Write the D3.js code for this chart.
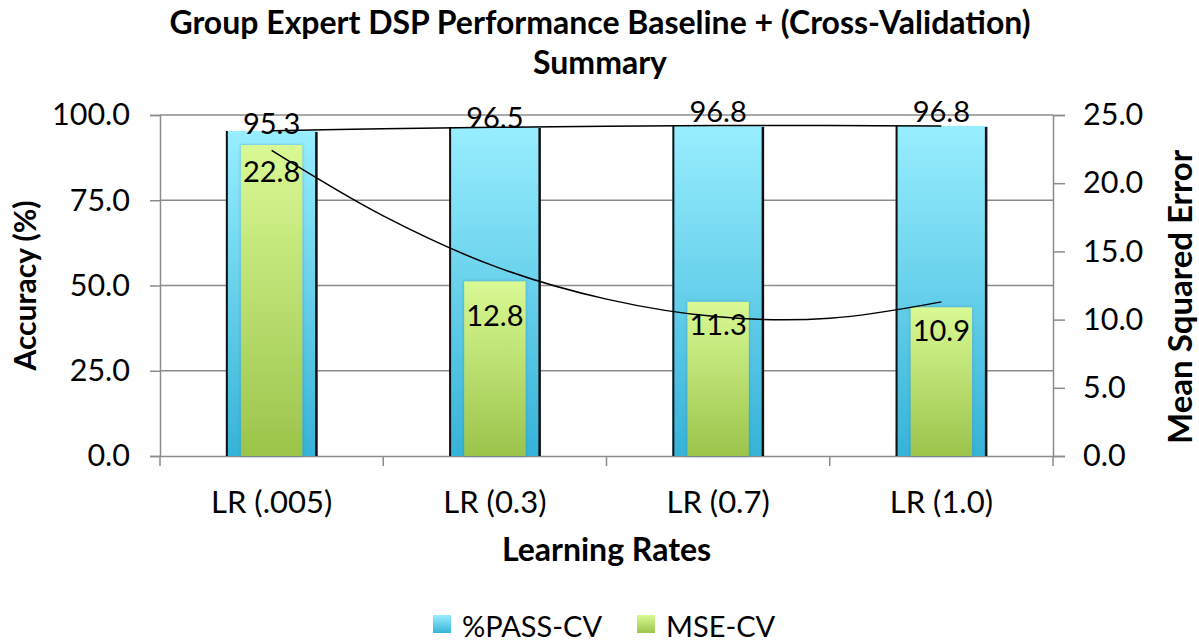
<!DOCTYPE html>
<html>
<head>
<meta charset="utf-8">
<script src="https://cdn.jsdelivr.net/npm/d3@7"></script>
<style>
  html, body { margin: 0; padding: 0; background: #fff; }
  svg { display: block; }
  text { font-family: Lato, "Open Sans", sans-serif; fill: #000; }
</style>
</head>
<body>
<svg id="chart" width="1199" height="644"></svg>
<script>
// ---- data ----
const categories = ["LR (.005)", "LR (0.3)", "LR (0.7)", "LR (1.0)"];
const passCV = [95.3, 96.5, 96.8, 96.8];
const mseCV = [22.8, 12.8, 11.3, 10.9];
const leftTicks = [0, 25, 50, 75, 100];
const rightTicks = [0, 5, 10, 15, 20, 25];
// trendlines (position in category index units)
const trendPos = [0, 0.5, 1, 1.5, 2, 2.5, 3];
const passTrend = [95.4, 96.0, 96.4, 96.7, 96.9, 96.9, 96.8];
const mseTrend = [22.4, 17.6, 13.9, 11.5, 10.2, 10.1, 11.3];
const titleLines = ["Group Expert DSP Performance Baseline + (Cross-Validation)", "Summary"];
const seriesNames = ["%PASS-CV", "MSE-CV"];

// ---- layout ----
const svg = d3.select("#chart");
const L = 160, R = 1053, T = 115, B = 456;
// label nudges (pixels) as placed in the original
const passLabelDy = [3, 1, -4, -4];
const mseLabelDy = [37, 45, 33, 34];

const x = d3.scaleBand().domain(categories).range([L, R]).padding(0);
const xi = d3.scaleLinear().domain([0, categories.length - 1])
  .range([x(categories[0]) + x.bandwidth() / 2, x(categories[categories.length - 1]) + x.bandwidth() / 2]);
const yL = d3.scaleLinear().domain([0, 100]).range([B, T]);
const yR = d3.scaleLinear().domain([0, 25]).range([B, T]);

const defs = svg.append("defs");
const gBlue = defs.append("linearGradient").attr("id", "gBlue").attr("x1", 0).attr("y1", 0).attr("x2", 0).attr("y2", 1);
gBlue.append("stop").attr("offset", "0%").attr("stop-color", "#98eefe");
gBlue.append("stop").attr("offset", "100%").attr("stop-color", "#36b3d8");
const gGreen = defs.append("linearGradient").attr("id", "gGreen").attr("x1", 0).attr("y1", 0).attr("x2", 0).attr("y2", 1);
gGreen.append("stop").attr("offset", "0%").attr("stop-color", "#d9f994");
gGreen.append("stop").attr("offset", "100%").attr("stop-color", "#9bc44b");
const fShadow = defs.append("filter").attr("id", "shadow").attr("x", "-20%").attr("y", "-20%").attr("width", "140%").attr("height", "140%");
fShadow.append("feDropShadow").attr("dx", 0).attr("dy", 0).attr("stdDeviation", 1.5).attr("flood-color", "#1a6f8a").attr("flood-opacity", 0.5);

// gridlines
svg.append("g").selectAll("line").data(leftTicks.filter(d => d > 0)).join("line")
  .attr("x1", L).attr("x2", R).attr("y1", d => yL(d)).attr("y2", d => yL(d))
  .attr("stroke", "#8c8c8c").attr("stroke-width", 1.5);

// axes
const axisLeft = d3.axisLeft(yL).tickValues(leftTicks).tickFormat(d3.format(".1f")).tickSize(10).tickPadding(20);
const gl = svg.append("g").attr("transform", `translate(${L},0)`).call(axisLeft);
const axisRight = d3.axisRight(yR).tickValues(rightTicks).tickFormat(d3.format(".1f")).tickSize(12).tickPadding(18);
const gr = svg.append("g").attr("transform", `translate(${R},0)`).call(axisRight);
const axisBottom = d3.axisBottom(x).tickSize(0).tickPadding(35);
const gb = svg.append("g").attr("transform", `translate(0,${B})`).call(axisBottom);
// boundary ticks between categories
svg.append("g").selectAll("line").data(d3.range(categories.length + 1)).join("line")
  .attr("x1", i => L + i * x.step()).attr("x2", i => L + i * x.step())
  .attr("y1", B).attr("y2", B + 10)
  .attr("stroke", "#8c8c8c").attr("stroke-width", 1.5);

[gl, gr, gb].forEach(g => {
  g.selectAll("path.domain").attr("stroke", "#8c8c8c").attr("stroke-width", 1.5);
  g.selectAll(".tick line").attr("stroke", "#8c8c8c").attr("stroke-width", 1.5);
  g.selectAll("text").style("font-family", "Lato").style("font-size", "30.5px").attr("fill", "#000");
});
gb.selectAll("text").style("font-size", "31px");

// bars
const blueW = x.bandwidth() * 0.41;
const greenW = x.bandwidth() * 0.275;
const bars = svg.append("g");
bars.selectAll("rect.pass").data(categories).join("rect").attr("class", "pass")
  .attr("x", d => x(d) + x.bandwidth() / 2 - blueW / 2)
  .attr("width", blueW)
  .attr("y", (d, i) => yL(passCV[i]))
  .attr("height", (d, i) => B - yL(passCV[i]))
  .attr("fill", "url(#gBlue)");
// black side edges
bars.selectAll("line.edgeL").data(categories).join("line").attr("class", "edgeL")
  .attr("x1", d => x(d) + x.bandwidth() / 2 - blueW / 2 + 1).attr("x2", d => x(d) + x.bandwidth() / 2 - blueW / 2 + 1)
  .attr("y1", (d, i) => yL(passCV[i])).attr("y2", B)
  .attr("stroke", "#111").attr("stroke-width", 2);
bars.selectAll("line.edgeR").data(categories).join("line").attr("class", "edgeR")
  .attr("x1", d => x(d) + x.bandwidth() / 2 + blueW / 2 - 1).attr("x2", d => x(d) + x.bandwidth() / 2 + blueW / 2 - 1)
  .attr("y1", (d, i) => yL(passCV[i]) + 1).attr("y2", B)
  .attr("stroke", "#111").attr("stroke-width", 2.5);
bars.selectAll("rect.mse").data(categories).join("rect").attr("class", "mse")
  .attr("x", d => x(d) + x.bandwidth() / 2 - greenW / 2)
  .attr("width", greenW)
  .attr("y", (d, i) => yR(mseCV[i]))
  .attr("height", (d, i) => B - yR(mseCV[i]))
  .attr("fill", "url(#gGreen)")
  .attr("filter", "url(#shadow)");

// trendlines
const passLine = d3.line().x((d, i) => xi(trendPos[i])).y(d => yL(d)).curve(d3.curveCatmullRom);
const mseLine = d3.line().x((d, i) => xi(trendPos[i])).y(d => yR(d)).curve(d3.curveCatmullRom);
svg.append("path").attr("d", passLine(passTrend)).attr("fill", "none").attr("stroke", "#000").attr("stroke-width", 1.5);
svg.append("path").attr("d", mseLine(mseTrend)).attr("fill", "none").attr("stroke", "#000").attr("stroke-width", 1.5);

// data labels
svg.append("g").selectAll("text").data(categories).join("text")
  .attr("x", d => x(d) + x.bandwidth() / 2)
  .attr("y", (d, i) => yL(passCV[i]) + passLabelDy[i])
  .attr("text-anchor", "middle")
  .style("font-size", "29px")
  .text((d, i) => passCV[i].toFixed(1));
svg.append("g").selectAll("text").data(categories).join("text")
  .attr("x", d => x(d) + x.bandwidth() / 2)
  .attr("y", (d, i) => yR(mseCV[i]) + mseLabelDy[i])
  .attr("text-anchor", "middle")
  .style("font-size", "29px")
  .text((d, i) => mseCV[i].toFixed(1));

// titles
svg.append("text").attr("x", 600).attr("y", 34).attr("text-anchor", "middle")
  .style("font-weight", "bold").style("font-size", "32px").text(titleLines[0]);
svg.append("text").attr("x", 600).attr("y", 74).attr("text-anchor", "middle")
  .style("font-weight", "bold").style("font-size", "32px").text(titleLines[1]);
svg.append("text").attr("transform", `translate(36,${(T + B) / 2}) rotate(-90)`).attr("text-anchor", "middle")
  .style("font-weight", "bold").style("font-size", "30px").text("Accuracy (%)");
svg.append("text").attr("transform", `translate(1192,297) rotate(-90)`).attr("text-anchor", "middle")
  .style("font-weight", "bold").style("font-size", "33px").text("Mean Squared Error");
svg.append("text").attr("x", (L + R) / 2).attr("y", 561).attr("text-anchor", "middle")
  .style("font-weight", "bold").style("font-size", "32px").text("Learning Rates");

// legend
const legend = svg.append("g");
const legX = [433, 637];
const legFill = ["url(#gBlue)", "url(#gGreen)"];
seriesNames.forEach((name, i) => {
  legend.append("rect").attr("x", legX[i]).attr("y", 615).attr("width", 18).attr("height", 18).attr("fill", legFill[i]);
  legend.append("text").attr("x", legX[i] + 29).attr("y", 637).style("font-size", "29px").text(name);
});
</script>
</body>
</html>
